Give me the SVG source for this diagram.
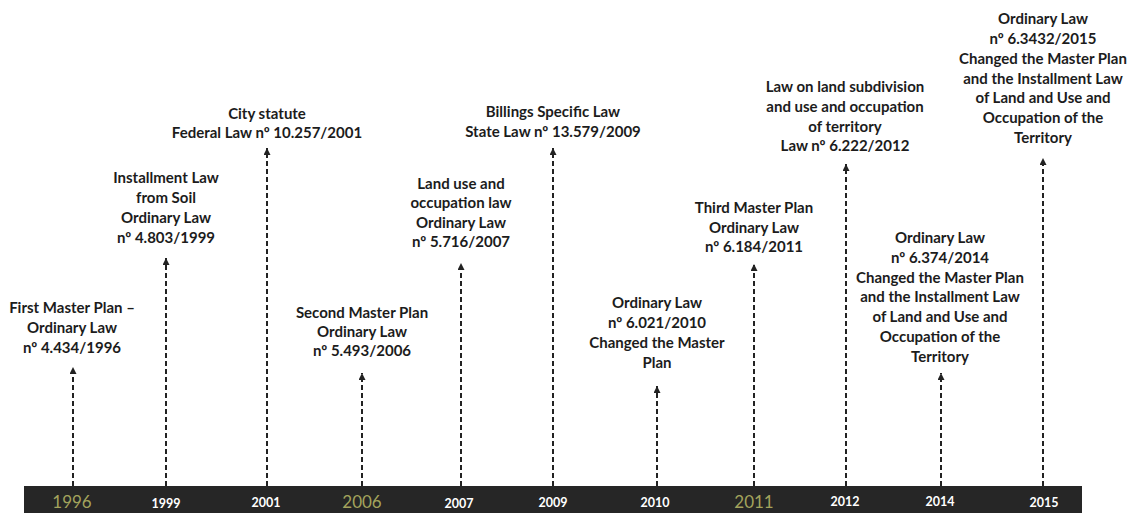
<svg xmlns="http://www.w3.org/2000/svg" width="1132" height="513" viewBox="0 0 1132 513">
<style>
.t{font-family:Lato,"Liberation Sans",sans-serif;font-weight:bold;font-size:15px;fill:#1c1c1c;text-anchor:middle}
.y{font-family:Lato,"Liberation Sans",sans-serif;font-weight:bold;font-size:12.5px;fill:#ffffff;text-anchor:middle}
.yh{font-family:Lato,"Liberation Sans",sans-serif;font-weight:normal;font-size:17px;fill:#a3a35c;text-anchor:middle}
.c{stroke:#222;stroke-width:2;stroke-dasharray:5 3;fill:none}
</style>
<defs>
<marker id="ah" viewBox="0 0 8 8" refX="8" refY="4" markerWidth="8" markerHeight="7" markerUnits="userSpaceOnUse" orient="auto">
<path d="M0,0 L8,4 L0,8 z" fill="#222"/>
</marker>
</defs>
<rect width="1132" height="513" fill="#ffffff"/>
<g id="timeline">
<rect x="24" y="486" width="1058" height="27" fill="#262626"/>
<text class="yh" x="72" y="508">1996</text>
<text class="y" x="166" y="508">1999</text>
<text class="y" x="266" y="507">2001</text>
<text class="yh" x="362" y="508">2006</text>
<text class="y" x="459" y="508">2007</text>
<text class="y" x="553" y="507">2009</text>
<text class="y" x="655" y="507">2010</text>
<text class="yh" x="754" y="508">2011</text>
<text class="y" x="845" y="506">2012</text>
<text class="y" x="940" y="506">2014</text>
<text class="y" x="1044" y="507">2015</text>
</g>
<g id="connectors">
<line class="c" x1="73" y1="486" x2="73" y2="367" marker-end="url(#ah)"/>
<line class="c" x1="166" y1="486" x2="166" y2="258" marker-end="url(#ah)"/>
<line class="c" x1="267" y1="486" x2="267" y2="148" marker-end="url(#ah)"/>
<line class="c" x1="362" y1="486" x2="362" y2="373" marker-end="url(#ah)"/>
<line class="c" x1="461" y1="486" x2="461" y2="263" marker-end="url(#ah)"/>
<line class="c" x1="553" y1="486" x2="553" y2="148" marker-end="url(#ah)"/>
<line class="c" x1="657" y1="486" x2="657" y2="386" marker-end="url(#ah)"/>
<line class="c" x1="754" y1="486" x2="754" y2="264" marker-end="url(#ah)"/>
<line class="c" x1="846" y1="486" x2="846" y2="164" marker-end="url(#ah)"/>
<line class="c" x1="941" y1="486" x2="941" y2="373" marker-end="url(#ah)"/>
<line class="c" x1="1043" y1="486" x2="1043" y2="158" marker-end="url(#ah)"/>
</g>
<g id="n1996"><text class="t" x="72"><tspan x="72" y="313">First Master Plan –</tspan><tspan x="72" y="333">Ordinary Law</tspan><tspan x="72" y="353">nº 4.434/1996</tspan></text></g>
<g id="n1999"><text class="t" x="166"><tspan x="166" y="183">Installment Law</tspan><tspan x="166" y="203">from Soil</tspan><tspan x="166" y="223">Ordinary Law</tspan><tspan x="166" y="243">nº 4.803/1999</tspan></text></g>
<g id="n2001"><text class="t" x="267"><tspan x="267" y="119">City statute</tspan><tspan x="267" y="138">Federal Law nº 10.257/2001</tspan></text></g>
<g id="n2006"><text class="t" x="362"><tspan x="362" y="318">Second Master Plan</tspan><tspan x="362" y="337">Ordinary Law</tspan><tspan x="362" y="356">nº 5.493/2006</tspan></text></g>
<g id="n2007"><text class="t" x="461"><tspan x="461" y="189">Land use and</tspan><tspan x="461" y="208">occupation law</tspan><tspan x="461" y="228">Ordinary Law</tspan><tspan x="461" y="247">nº 5.716/2007</tspan></text></g>
<g id="n2009"><text class="t" x="553"><tspan x="553" y="117">Billings Specific Law</tspan><tspan x="553" y="137">State Law nº 13.579/2009</tspan></text></g>
<g id="n2010"><text class="t" x="657"><tspan x="657" y="308">Ordinary Law</tspan><tspan x="657" y="328">nº 6.021/2010</tspan><tspan x="657" y="348">Changed the Master</tspan><tspan x="657" y="368">Plan</tspan></text></g>
<g id="n2011"><text class="t" x="754"><tspan x="754" y="213">Third Master Plan</tspan><tspan x="754" y="233">Ordinary Law</tspan><tspan x="754" y="252">nº 6.184/2011</tspan></text></g>
<g id="n2012"><text class="t" x="845"><tspan x="845" y="92">Law on land subdivision</tspan><tspan x="845" y="112">and use and occupation</tspan><tspan x="845" y="132">of territory</tspan><tspan x="845" y="151">Law nº 6.222/2012</tspan></text></g>
<g id="n2014"><text class="t" x="940"><tspan x="940" y="243">Ordinary Law</tspan><tspan x="940" y="263">nº 6.374/2014</tspan><tspan x="940" y="283">Changed the Master Plan</tspan><tspan x="940" y="302">and the Installment Law</tspan><tspan x="940" y="322">of Land and Use and</tspan><tspan x="940" y="342">Occupation of the</tspan><tspan x="940" y="362">Territory</tspan></text></g>
<g id="n2015"><text class="t" x="1043"><tspan x="1043" y="24">Ordinary Law</tspan><tspan x="1043" y="44">nº 6.3432/2015</tspan><tspan x="1043" y="64">Changed the Master Plan</tspan><tspan x="1043" y="84">and the Installment Law</tspan><tspan x="1043" y="103">of Land and Use and</tspan><tspan x="1043" y="123">Occupation of the</tspan><tspan x="1043" y="143">Territory</tspan></text></g>
</svg>
